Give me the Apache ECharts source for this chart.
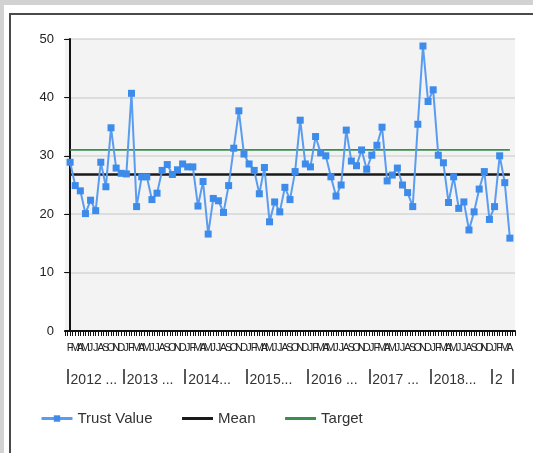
<!DOCTYPE html>
<html>
<head>
<meta charset="utf-8">
<script src="https://cdn.jsdelivr.net/npm/echarts@6/dist/echarts.min.js"></script>
<style>
  html, body { margin: 0; padding: 0; background: #fff; }
  #wrap { position: relative; width: 533px; height: 453px; overflow: hidden; }
  #chart { position: absolute; left: 0; top: 0; width: 533px; height: 453px; }
  .fr { position: absolute; pointer-events: none; }
</style>
</head>
<body>
<div id="wrap">
  <div class="fr" style="left:0;top:0;width:533px;height:5px;background:#d2d2d2"></div>
  <div class="fr" style="left:0;top:0;width:4px;height:453px;background:#d2d2d2"></div>
  <div class="fr" style="left:9px;top:13px;width:524px;height:2px;background:#4a4a4a"></div>
  <div class="fr" style="left:9px;top:13px;width:2px;height:440px;background:#4a4a4a"></div>
  <div id="chart"></div>
</div>
<script>
// Month initials, Feb 2012 .. Apr 2019
const months = [
  'F','M','A','M','J','J','A','S','O','N','D',
  'J','F','M','A','M','J','J','A','S','O','N','D',
  'J','F','M','A','M','J','J','A','S','O','N','D',
  'J','F','M','A','M','J','J','A','S','O','N','D',
  'J','F','M','A','M','J','J','A','S','O','N','D',
  'J','F','M','A','M','J','J','A','S','O','N','D',
  'J','F','M','A','M','J','J','A','S','O','N','D',
  'J','F','M','A'
];
const yearLabels = ['2012 ...', '2013 ...', '2014...', '2015...', '2016 ...', '2017 ...', '2018...', '2'];
const yearStartIndex = [0, 11, 23, 35, 47, 59, 71, 83];

const trustValues = [
  28.9, 24.9, 24.0, 20.1, 22.4, 20.6, 28.9, 24.7, 34.8, 27.9, 27.0, 26.9,
  40.7, 21.3, 26.4, 26.4, 22.5, 23.6, 27.5, 28.5, 26.8, 27.6, 28.6, 28.1,
  28.1, 21.4, 25.6, 16.6, 22.7, 22.3, 20.3, 24.9, 31.3, 37.7, 30.3, 28.6,
  27.5, 23.5, 28.0, 18.7, 22.1, 20.4, 24.6, 22.5, 27.3, 36.1, 28.6, 28.1,
  33.3, 30.5, 30.0, 26.4, 23.1, 25.0, 34.4, 29.1, 28.3, 31.0, 27.7, 30.1,
  31.8, 34.9, 25.7, 26.7, 27.9, 25.0, 23.7, 21.3, 35.4, 48.8, 39.3, 41.3,
  30.1, 28.8, 22.0, 26.4, 21.0, 22.1, 17.3, 20.4, 24.3, 27.3, 19.1, 21.3,
  30.0, 25.4, 15.9
];
const meanValue = 26.8;
const targetValue = 31;

const yTicks = [0, 10, 20, 30, 40, 50];

const chart = echarts.init(document.getElementById('chart'), null, { renderer: 'canvas' });

const trustData = trustValues.map((v, i) => [i, v]);
const meanData = trustValues.map((v, i) => [i, meanValue]);
const targetData = trustValues.map((v, i) => [i, targetValue]);

const boundaries = yearStartIndex.map(s => s - 0.5).concat([months.length - 0.5]);

const FONT = 'Liberation Sans, Arial, sans-serif';

chart.setOption({
  animation: false,
  textStyle: { fontFamily: FONT },
  grid: {
    left: 65, right: 18, top: 39, bottom: 122,
    show: true, backgroundColor: '#f3f3f3', borderWidth: 0
  },
  legend: {
    bottom: 22, left: 35,
    itemWidth: 31, itemHeight: 8, itemGap: 28,
    lineStyle: { width: 3 },
    textStyle: { fontSize: 15, color: '#333', fontFamily: FONT },
    data: [
      { name: 'Trust Value' },
      { name: 'Mean', itemStyle: { opacity: 0 } },
      { name: 'Target', itemStyle: { opacity: 0 } }
    ]
  },
  xAxis: [
    {
      type: 'value', min: -1, max: months.length, interval: 1,
      axisLine: { show: true, onZero: false, lineStyle: { color: '#111', width: 2 } },
      axisTick: { show: true, length: 5, lineStyle: { color: '#111', width: 1 } },
      minorTick: { show: true, splitNumber: 2, length: 5, lineStyle: { color: '#111', width: 1 } },
      splitLine: { show: false },
      axisLabel: {
        margin: 11, fontSize: 11, color: '#222', fontFamily: FONT,
        showMinLabel: true, showMaxLabel: true,
        formatter: v => { const i = Math.round(v); return (i >= 0 && i < months.length) ? months[i] : ''; }
      }
    },
    {
      type: 'value', min: -1, max: months.length, position: 'bottom', offset: 38,
      axisLine: { show: true, onZero: false, lineStyle: { color: '#222', opacity: 0 } },
      axisTick: { show: true, inside: false, length: 15, customValues: boundaries, lineStyle: { color: '#222', width: 1.5 } },
      splitLine: { show: false },
      axisLabel: {
        customValues: yearStartIndex.map(s => s - 0.5),
        align: 'left', margin: 4, fontSize: 14, color: '#333', fontFamily: FONT,
        padding: [0, 0, 0, 3],
        formatter: v => { const k = yearStartIndex.indexOf(Math.round(v + 0.5)); return k >= 0 ? yearLabels[k] : ''; }
      }
    }
  ],
  yAxis: {
    type: 'value', min: 0, max: 50, interval: 10,
    axisLine: { show: true, lineStyle: { color: '#111', width: 2 } },
    axisTick: { show: true, length: 6, lineStyle: { color: '#111', width: 1 } },
    splitLine: { show: true, lineStyle: { color: '#d6d6d6', width: 1.5 } },
    axisLabel: {
      margin: 11, fontSize: 13, color: '#222', fontFamily: FONT,
      formatter: v => (yTicks.indexOf(v) >= 0 ? String(v) : '')
    }
  },
  series: [
    {
      name: 'Trust Value', type: 'line', data: trustData, z: 5,
      symbol: 'rect', symbolSize: 7, showAllSymbol: true,
      itemStyle: { color: '#3d8bea' },
      lineStyle: { color: '#5a9cf0', width: 2 }
    },
    {
      name: 'Mean', type: 'line', data: meanData, z: 3,
      symbol: 'none', itemStyle: { color: '#111' },
      lineStyle: { color: '#1a1a1a', width: 2.5 }
    },
    {
      name: 'Target', type: 'line', data: targetData, z: 3,
      symbol: 'none', itemStyle: { color: '#3a8f50' },
      lineStyle: { color: '#3a8f50', width: 1.8 }
    }
  ]
});
</script>
</body>
</html>
